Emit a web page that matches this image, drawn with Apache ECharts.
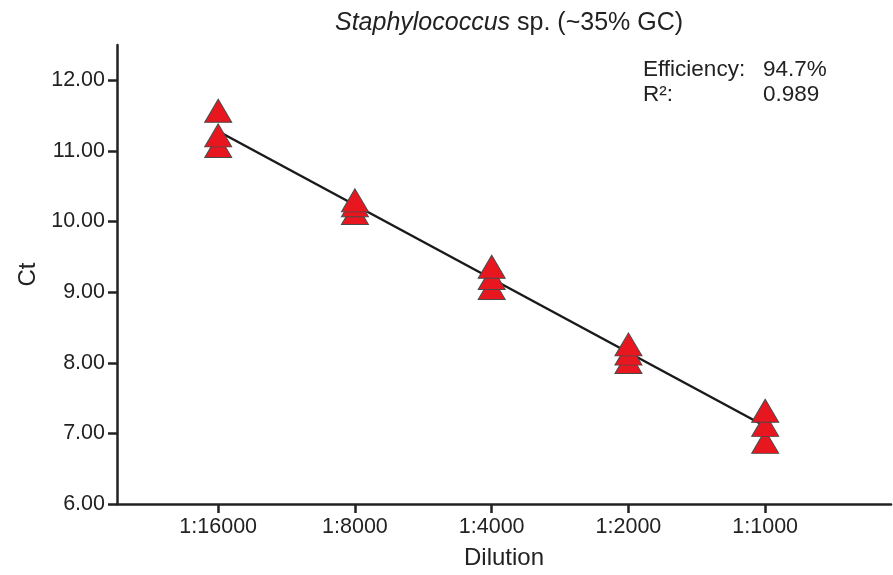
<!DOCTYPE html>
<html>
<head>
<meta charset="utf-8">
<script src="https://cdn.jsdelivr.net/npm/echarts@6/dist/echarts.min.js"></script>
<style>
  html, body { margin: 0; padding: 0; background: #fff; }
  #chart { width: 893px; height: 575px; }
</style>
</head>
<body>
<div id="chart"></div>
<script>
// dilution series, three replicate Ct readings per dilution
const dilutions = ['1:16000', '1:8000', '1:4000', '1:2000', '1:1000'];
const ctRep1 = [11.57, 10.30, 9.36, 8.26, 7.32];
const ctRep2 = [11.22, 10.23, 9.20, 8.13, 7.12];
const ctRep3 = [11.07, 10.12, 9.06, 8.01, 6.88];
const yTicks = [6, 7, 8, 9, 10, 11, 12];
const efficiency = '94.7%';
const rSquared = '0.989';

const font = 'Liberation Sans';
const ink = '#222';

// points, drawn low first so the higher triangle sits on top
let points = [];
[ctRep3, ctRep2, ctRep1].forEach(function (rep) {
    rep.forEach(function (v, i) { points.push([i, v]); });
});

// least squares fit through all replicates
let n = points.length, sx = 0, sy = 0, sxx = 0, sxy = 0;
points.forEach(function (p) {
    sx += p[0]; sy += p[1]; sxx += p[0] * p[0]; sxy += p[0] * p[1];
});
let slope = (n * sxy - sx * sy) / (n * sxx - sx * sx);
let icpt = (sy - slope * sx) / n;
let fitLine = [[0, icpt], [dilutions.length - 1, icpt + slope * (dilutions.length - 1)]];

let chart = echarts.init(document.getElementById('chart'));

let option = {
    animation: false,
    textStyle: { fontFamily: font, color: ink },
    title: {
        text: '{i|Staphylococcus}{n| sp. (~35% GC)}',
        left: 504,
        top: 6,
        textAlign: 'center',
        textStyle: {
            fontFamily: font,
            fontSize: 25,
            fontWeight: 'normal',
            color: ink,
            rich: {
                i: { fontFamily: font, fontSize: 25, fontStyle: 'italic', color: ink },
                n: { fontFamily: font, fontSize: 25, color: ink }
            }
        }
    },
    grid: { left: 117, right: 2, top: 45, bottom: 70 },
    xAxis: {
        type: 'value',
        min: -0.74,
        max: 4.92,
        name: 'Dilution',
        nameLocation: 'middle',
        nameGap: 42,
        nameTextStyle: { fontFamily: font, fontSize: 24, color: ink },
        splitLine: { show: false },
        axisLine: { lineStyle: { color: ink, width: 2.5 } },
        axisTick: {
            customValues: [0, 1, 2, 3, 4],
            length: 9,
            lineStyle: { color: ink, width: 2.5 }
        },
        axisLabel: {
            customValues: [0, 1, 2, 3, 4],
            margin: 12,
            fontSize: 21.5,
            color: ink,
            fontFamily: font,
            formatter: function (v) { return dilutions[Math.round(v)]; }
        }
    },
    yAxis: {
        type: 'value',
        min: 6,
        max: 12.5,
        name: 'Ct',
        nameLocation: 'middle',
        nameGap: 70,
        nameTextStyle: { fontFamily: font, fontSize: 24, color: ink },
        splitLine: { show: false },
        axisLine: { show: true, onZero: false, lineStyle: { color: ink, width: 2.5 } },
        axisTick: {
            show: true,
            customValues: yTicks,
            length: 9,
            lineStyle: { color: ink, width: 2.5 }
        },
        axisLabel: {
            customValues: yTicks,
            margin: 12,
            fontSize: 21.5,
            color: ink,
            fontFamily: font,
            formatter: function (v) { return v.toFixed(2); }
        }
    },
    graphic: [
        {
            type: 'text', left: 643, top: 58, z: 10,
            style: { text: 'Efficiency:', fontFamily: font, fontSize: 22.5, fill: ink }
        },
        {
            type: 'text', left: 763, top: 58, z: 10,
            style: { text: efficiency, fontFamily: font, fontSize: 22.5, fill: ink }
        },
        {
            type: 'text', left: 643, top: 83, z: 10,
            style: { text: 'R²:', fontFamily: font, fontSize: 22.5, fill: ink }
        },
        {
            type: 'text', left: 763, top: 83, z: 10,
            style: { text: rSquared, fontFamily: font, fontSize: 22.5, fill: ink }
        }
    ],
    series: [
        {
            type: 'line',
            data: fitLine,
            symbol: 'none',
            z: 1,
            lineStyle: { color: '#1a1a1a', width: 2.5 }
        },
        {
            type: 'scatter',
            data: points,
            symbol: 'triangle',
            symbolSize: [27, 23],
            z: 2,
            itemStyle: { color: '#e8161f', borderColor: '#4a4a4a', borderWidth: 1, opacity: 1 }
        }
    ]
};
chart.setOption(option);
</script>
</body>
</html>
